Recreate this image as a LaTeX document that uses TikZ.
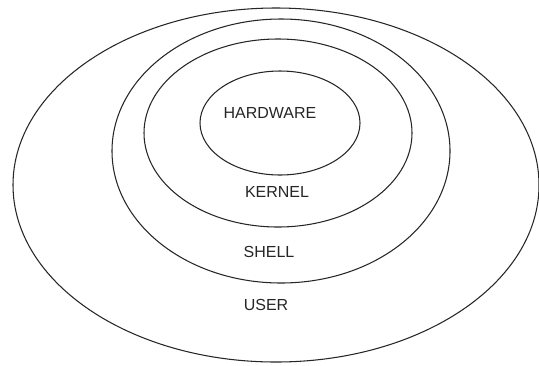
\documentclass[tikz,border=0pt]{standalone}
\usepackage{fontspec}
\setmainfont{Liberation Sans}
\usepackage{tikz}
\usetikzlibrary{positioning}

\tikzset{
    layer/.style={line width=0.6pt, draw=black!85},
    tag/.style={anchor=base, font=\fontsize{9.1}{11}\selectfont, text=black!85, inner sep=0pt}
}

\begin{document}
\begin{tikzpicture}
    \useasboundingbox (0,0) rectangle (10.78,-7.30);
    \fill [white] (0,0) rectangle (10.78,-7.30);

    % Layers, outside in
    \draw [layer] (5.52,-3.70) ellipse (5.26 and 3.54); % User
    \draw [layer] (5.62,-3.02) ellipse (3.38 and 2.64); % Shell
    \draw [layer] (5.56,-2.66) ellipse (2.68 and 1.88); % Kernel
    \draw [layer] (5.60,-2.46) ellipse (1.60 and 1.04); % Hardware

    % Labels
    \node [tag] (hardware) at (5.40,-2.36) {HARDWARE};
    \node [tag] (kernel) at (5.54,-3.94) {KERNEL};
    \node [tag] (shell) at (5.38,-5.14) {SHELL};
    \node [tag] (user) at (5.32,-6.20) {USER};
\end{tikzpicture}
\end{document}
